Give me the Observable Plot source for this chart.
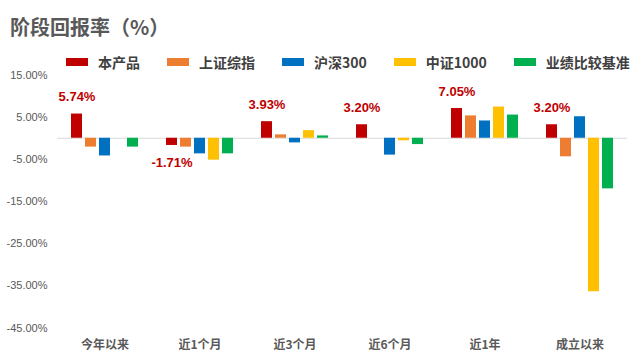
<!DOCTYPE html>
<html>
<head>
<meta charset="utf-8">
<script src="https://cdn.jsdelivr.net/npm/d3@7"></script>
<script src="https://cdn.jsdelivr.net/npm/@observablehq/plot@0.6"></script>
<style>
  html, body { margin: 0; padding: 0; background: #fff; }
  #wrap { position: relative; width: 641px; height: 361px; overflow: hidden;
          font-family: 'Liberation Sans', 'Noto Sans CJK SC', sans-serif; }
  #title { position: absolute; left: 10px; top: 15px; font-size: 20px; line-height: 24px;
           font-weight: bold; color: #595959; font-family: 'Noto Sans CJK SC', sans-serif; white-space: nowrap; }
  #legend { position: absolute; left: 66px; top: 52px; width: 600px; display: flex; align-items: center;
            font-size: 14px; line-height: 20px; font-weight: bold; color: #404040; white-space: nowrap;
            font-family: 'Noto Sans CJK SC', sans-serif; }
  #legend .item { display: flex; align-items: center; margin-right: 27px; flex: none; }
  #legend .sw { width: 22px; height: 8px; margin-right: 10px; flex: none; }
  #chart { position: absolute; left: 0; top: 0; }
</style>
</head>
<body>
<div id="wrap">
  <div id="chart"></div>
  <div id="title">阶段回报率（%）</div>
  <div id="legend"></div>
</div>
<script>
const categories = ["今年以来", "近1个月", "近3个月", "近6个月", "近1年", "成立以来"];
const series = ["本产品", "上证综指", "沪深300", "中证1000", "业绩比较基准"];
const colors = ["#C00000", "#ED7D31", "#0070C0", "#FFC000", "#00B050"];
const product   = [5.74, -1.71, 3.93, 3.20, 7.05, 3.20];
const shanghai  = [-2.1, -2.1, 0.8, 0.0, 5.3, -4.4];
const hs300     = [-4.2, -3.7, -1.1, -4.0, 4.1, 5.1];
const csi1000   = [0.0, -5.2, 1.8, -0.6, 7.4, -36.4];
const benchmark = [-2.1, -3.7, 0.55, -1.5, 5.5, -12.0];
const yTicks = [15, 5, -5, -15, -25, -35, -45];

const seriesValues = [product, shanghai, hs300, csi1000, benchmark];
const data = [];
categories.forEach((c, i) => {
  series.forEach((s, j) => data.push({cat: c, series: s, value: seriesValues[j][i]}));
});
const labels = categories.map((c, i) => ({cat: c, series: series[0], value: product[i]}));

// legend
const legend = document.getElementById("legend");
series.forEach((s, j) => {
  const it = document.createElement("div");
  it.className = "item";
  const sw = document.createElement("span");
  sw.className = "sw";
  sw.style.background = colors[j];
  const tx = document.createElement("span");
  tx.textContent = s;
  it.appendChild(sw); it.appendChild(tx);
  legend.appendChild(it);
});

const chart = Plot.plot({
  width: 641,
  height: 361,
  marginTop: 74.5,
  marginBottom: 33.5,
  marginLeft: 55,
  marginRight: 12,
  style: {fontFamily: "'Liberation Sans', 'Noto Sans CJK SC', sans-serif", background: "transparent", overflow: "visible"},
  fx: {domain: categories, padding: 0, label: null},
  x: {domain: series, paddingInner: 0.2, paddingOuter: 0.9, axis: null},
  y: {domain: [-45, 15], label: null},
  color: {domain: series, range: colors},
  marks: [
    Plot.axisY({ticks: yTicks, tickFormat: d => d.toFixed(2) + "%", tickSize: 0, tickPadding: 10,
                fontSize: 11, fill: "#595959", label: null}),
    Plot.axisFx({anchor: "bottom", tickSize: 0, tickPadding: 12, fontSize: 12, fontWeight: "bold", fill: "#595959",
                 fontFamily: "'Noto Sans CJK SC', sans-serif", label: null}),
    Plot.ruleY([0], {stroke: "#D9D9D9", strokeWidth: 1.2}),
    Plot.barY(data, {fx: "cat", x: "series", y: "value", fill: "series"}),
    Plot.text(labels.filter(d => d.value >= 0), {fx: "cat", x: "series", y: "value",
      text: d => d.value.toFixed(2) + "%", dy: -17, fill: "#C00000", fontWeight: "bold", fontSize: 13}),
    Plot.text(labels.filter(d => d.value < 0), {fx: "cat", x: "series", y: "value",
      text: d => d.value.toFixed(2) + "%", dy: 17, fill: "#C00000", fontWeight: "bold", fontSize: 13})
  ]
});
document.getElementById("chart").appendChild(chart);
</script>
</body>
</html>
